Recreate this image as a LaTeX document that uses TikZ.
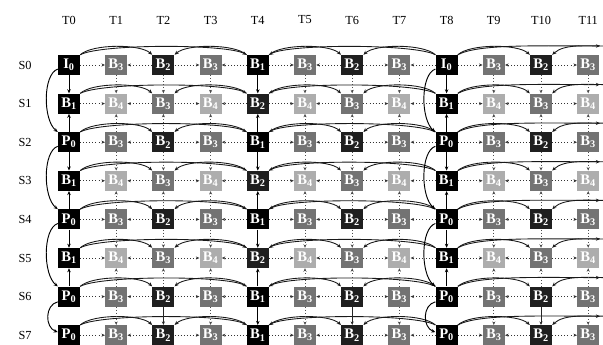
\documentclass[tikz,border=0pt]{standalone}
\usepackage{fontspec}
\setmainfont{Liberation Serif}
\usetikzlibrary{arrows.meta}
\begin{document}
\begin{tikzpicture}[x=0.03cm,y=-0.03cm,
  frm/.style={minimum width=0.66cm, minimum height=0.6cm, inner sep=0pt, text=white,
    font=\fontsize{12.5}{13}\selectfont\bfseries},
  hdr/.style={font=\fontsize{10.5}{12}\selectfont},
  harr/.style={dotted, line width=0.6pt, black!80, -{Stealth[length=3pt,width=2.6pt]}},
  varr/.style={dotted, line width=0.6pt, black!70, -{Stealth[length=3pt,width=2.6pt]}},
  vthin/.style={line width=0.5pt, black!85, -{Stealth[length=3pt,width=2.6pt]}},
  keyarr/.style={line width=0.8pt, -{Stealth[length=3.5pt,width=3pt]}},
  arcarr/.style={line width=0.75pt, black!90, -{Stealth[length=3.5pt,width=3pt]}},
  curv/.style={line width=0.8pt, -{Stealth[length=3.5pt,width=3pt]}}
]
\useasboundingbox (0,0) rectangle (603,345);

% headers
\foreach \j in {0,...,11} \node[hdr] (t\j) at ({69+47.2*\j},20) {T\j};
\foreach \i in {0,...,7} \node[hdr] (s\i) at (25,{65+38.6*\i}) {S\i};

% frames
\foreach \i in {0,...,7} {
  \foreach \j in {0,...,11} {
    \pgfmathtruncatemacro\odd{mod(\i,2)*(\i<7)}
    \pgfmathtruncatemacro\cl{mod(\j,8)==0 ? 0 : (mod(\j,4)==0 ? 1 : (mod(\j,2)==0 ? 2 : 3))}
    \pgfmathtruncatemacro\lv{\cl+\odd}
    \def\lt{B}
    \ifnum\odd=0 \ifnum\cl=0 \ifnum\i=0 \def\lt{I}\else\def\lt{P}\fi\fi\fi
    \ifcase\lv \def\fc{black}\or\def\fc{black}\or\def\fc{black!88}\or\def\fc{black!55}\else\def\fc{black!32}\fi
    \node[frm, fill=\fc] (n-\i-\j) at ({69+47.2*\j},{65+38.6*\i}) {\lt\textsubscript{\lv}};
  }
}

% horizontal (temporal) dotted arrows
\foreach \i in {0,...,7} {
  \foreach \j in {1,3,5,7,9,11} {
    \pgfmathtruncatemacro\jm{\j-1}
    \draw[harr] (n-\i-\jm.east) -- (n-\i-\j.west);
    \ifnum\j<11
      \pgfmathtruncatemacro\jp{\j+1}
      \draw[harr] (n-\i-\jp.west) -- (n-\i-\j.east);
    \fi
  }
}

% hierarchical arcs above each row
\foreach \i in {0,...,7} {
  \foreach \a/\b/\d in {0/2/12,4/2/12,0/4/20,8/4/20,4/6/12,8/6/12,8/10/12} {
    \ifnum\b>\a
      \draw[arcarr] (n-\i-\a.north east) .. controls +(\d,-11) and +(-\d,-11) .. (n-\i-\b.north west);
    \else
      \draw[arcarr] (n-\i-\a.north west) .. controls +(-\d,-11) and +(\d,-11) .. (n-\i-\b.north east);
    \fi
  }
  \coordinate (rout-\i) at (600,{65+38.6*\i-19});
  \coordinate (rin-\i) at (606,{65+38.6*\i-19});
  \draw[arcarr] (n-\i-8.north east) .. controls +(20,-11) and +(-60,0) .. (rout-\i);
  \draw[arcarr] (rin-\i) .. controls +(-20,0) and +(12,-11) .. (n-\i-10.north east);
}

% vertical (inter-view) arrows
\foreach \j in {0,...,11} {
  \pgfmathtruncatemacro\k{mod(\j,4)==0 ? 1 : 0}
  \pgfmathtruncatemacro\ev{mod(\j,2)==0 ? 1 : 0}
  \foreach \p/\q in {0/1,2/1,2/3,4/3,4/5,6/5} {
    \ifnum\k=1
      \draw[keyarr] (n-\p-\j) -- (n-\q-\j);
    \else
      \draw[varr] (n-\p-\j) -- (n-\q-\j);
    \fi
  }
  \ifnum\j=0 \else\ifnum\j=8 \else
    \ifnum\k=1
      \draw[keyarr] (n-6-\j) -- (n-7-\j);
    \else\ifnum\ev=1
      \draw[vthin] (n-6-\j) -- (n-7-\j);
    \else
      \draw[varr] (n-6-\j) -- (n-7-\j);
    \fi\fi
  \fi\fi
}

% curved inter-view arrows for anchor columns
\foreach \j in {0,8} {
  \foreach \p/\q in {0/2,2/4,4/6} {
    \draw[curv] (n-\p-\j.200) .. controls +(-15,5) and +(-15,-12) .. (n-\q-\j.north west);
  }
  \draw[curv] (n-6-\j.205) .. controls +(-13,3) and +(-13,-5) .. (n-7-\j.165);
}
\end{tikzpicture}
\end{document}
